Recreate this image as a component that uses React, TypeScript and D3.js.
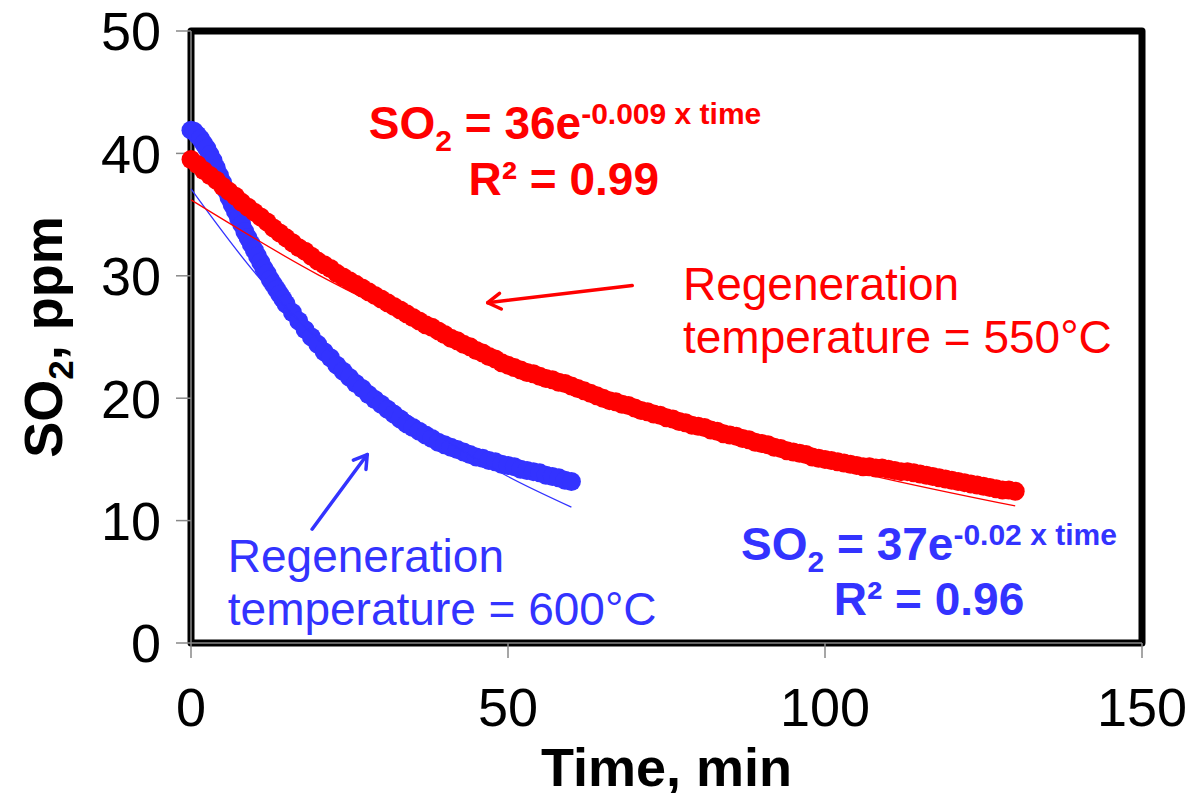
import React from "react";
import * as d3 from "d3";

// SO2 outlet concentration (ppm) during regeneration at 550 °C, one reading per minute
const red550 = [
  39.5, 39.1, 38.6, 38.2, 37.8, 37.3, 36.9, 36.5, 36.0, 35.6, 35.2,
  34.8, 34.4, 33.9, 33.5, 33.1, 32.7, 32.3, 32.0, 31.6, 31.2,
  30.9, 30.6, 30.2, 29.9, 29.6, 29.3, 29.0, 28.7, 28.4, 28.1,
  27.8, 27.5, 27.2, 26.9, 26.6, 26.3, 26.0, 25.8, 25.5, 25.2,
  24.9, 24.7, 24.4, 24.2, 23.9, 23.7, 23.4, 23.2, 22.9, 22.7,
  22.5, 22.3, 22.1, 22.0, 21.8, 21.6, 21.5, 21.3, 21.2, 21.0,
  20.8, 20.6, 20.4, 20.2, 20.0, 19.8, 19.7, 19.5, 19.4, 19.2,
  19.0, 18.9, 18.7, 18.6, 18.4, 18.3, 18.1, 18.0, 17.8, 17.7,
  17.6, 17.4, 17.3, 17.1, 17.0, 16.9, 16.7, 16.6, 16.4, 16.3,
  16.2, 16.0, 15.9, 15.7, 15.6, 15.5, 15.4, 15.2, 15.1, 15.0,
  14.9, 14.8, 14.7, 14.6, 14.5, 14.4, 14.4, 14.3, 14.3, 14.2,
  14.1, 14.0, 14.0, 13.9, 13.8, 13.7, 13.6, 13.5, 13.4, 13.3,
  13.2, 13.1, 13.0, 12.9, 12.8, 12.7, 12.6, 12.5, 12.5, 12.4,
];

// 600 °C run: readings every half minute while it falls fast, then every minute
const blueEarly = [
  41.9, 41.8, 41.5, 41.2, 40.8, 40.4, 39.9, 39.4, 38.8, 38.2,
  37.6, 37.0, 36.4, 35.8, 35.3, 34.7, 34.2, 33.6, 33.1, 32.6,
  32.1, 31.6, 31.1, 30.6, 30.2, 29.7, 29.3, 28.9, 28.5, 28.1,
];
const blueLate = [
  27.7, 27.0, 26.3, 25.6, 25.0, 24.4,
  23.8, 23.3, 22.7, 22.2, 21.7, 21.2, 20.8, 20.3, 19.9, 19.5,
  19.1, 18.7, 18.3, 17.9, 17.6, 17.3, 17.0, 16.7, 16.4, 16.2,
  16.0, 15.8, 15.6, 15.4, 15.2, 15.1, 14.9, 14.8, 14.6, 14.5,
  14.4, 14.2, 14.1, 14.0, 13.9, 13.7, 13.6, 13.5, 13.3, 13.2,
];

// exponential trendlines: [time, ppm]
const redFit = [[0, 36.2], [20, 30.1], [40, 25.1], [60, 20.9], [80, 17.5], [100, 14.6], [130, 11.2]];
const blueFit = [[0, 37.1], [10, 30.3], [20, 24.8], [30, 20.3], [40, 16.6], [50, 13.6], [60, 11.1]];

const xTicks = [0, 50, 100, 150];
const yTicks = [0, 10, 20, 30, 40, 50];

const RED = "#ff0000";
const BLUE = "#3333ff";
const FONT = "'Liberation Sans', Arial, sans-serif";

export default function App() {
  const width = 1195;
  const height = 793;

  const x = d3.scaleLinear().domain([0, 150]).range([191, 1142]);
  const y = d3.scaleLinear().domain([0, 50]).range([643, 31]);

  const redPts = red550.map((v, i) => [i, v]);
  const bluePts = [
    ...blueEarly.map((v, i) => [i * 0.5, v]),
    ...blueLate.map((v, i) => [15 + i, v]),
  ];

  const fitLine = d3
    .line<number[]>()
    .x((d) => x(d[0]))
    .y((d) => y(d[1]))
    .curve(d3.curveMonotoneX);

  const arrow = (x1: number, y1: number, x2: number, y2: number, color: string) => {
    const ax1 = x(x1), ay1 = y(y1), ax2 = x(x2), ay2 = y(y2);
    const ang = Math.atan2(ay2 - ay1, ax2 - ax1);
    const L = 15, spread = 0.55;
    const p1 = [ax2 - L * Math.cos(ang - spread), ay2 - L * Math.sin(ang - spread)];
    const p2 = [ax2 - L * Math.cos(ang + spread), ay2 - L * Math.sin(ang + spread)];
    return (
      <g stroke={color} strokeWidth={3.5} fill="none" strokeLinecap="round" strokeLinejoin="round">
        <line x1={ax1} y1={ay1} x2={ax2} y2={ay2} />
        <polyline points={`${p1[0]},${p1[1]} ${ax2},${ay2} ${p2[0]},${p2[1]}`} />
      </g>
    );
  };

  return (
    <div style={{ position: "absolute", left: 0, top: 0 }}>
      <svg width={width} height={height} style={{ display: "block", fontFamily: FONT }}>
        <rect width={width} height={height} fill="#fff" />

        {/* plot frame */}
        <rect
          x={x(0)}
          y={y(50)}
          width={x(150) - x(0)}
          height={y(0) - y(50)}
          fill="none"
          stroke="#000"
          strokeWidth={7}
          strokeLinejoin="round"
        />

        {/* axes */}
        <g stroke="#888" strokeWidth={1.5}>
          <line x1={x(0)} x2={x(0)} y1={y(50)} y2={y(0)} />
          <line x1={x(0)} x2={x(150)} y1={y(0)} y2={y(0)} />
          {yTicks.map((t) => (
            <line key={"yt" + t} x1={x(0) - 15} x2={x(0)} y1={y(t)} y2={y(t)} />
          ))}
          {xTicks.map((t) => (
            <line key={"xt" + t} x1={x(t)} x2={x(t)} y1={y(0)} y2={y(0) + 15} />
          ))}
        </g>
        {yTicks.map((t) => (
          <text key={"yl" + t} x={x(0) - 30} y={y(t)} dy="0.36em" textAnchor="end" fontSize={54} fill="#000">
            {t}
          </text>
        ))}
        {xTicks.map((t) => (
          <text key={"xl" + t} x={x(t)} y={726} textAnchor="middle" fontSize={54} fill="#000">
            {t}
          </text>
        ))}

        {/* axis titles */}
        <text x={(x(0) + x(150)) / 2} y={786} textAnchor="middle" fontSize={54} fontWeight="bold">
          Time, min
        </text>
        <text
          transform={`translate(62,${(y(0) + y(50)) / 2}) rotate(-90)`}
          textAnchor="middle"
          fontSize={54}
          fontWeight="bold"
        >
          SO<tspan fontSize={35} dy={11}>2</tspan>
          <tspan dy={-11}>, ppm</tspan>
        </text>

        {/* data */}
        <g fill={BLUE}>
          {bluePts.map((d, i) => (
            <circle key={"b" + i} cx={x(d[0])} cy={y(d[1])} r={9.5} />
          ))}
        </g>
        <g fill={RED}>
          {redPts.map((d, i) => (
            <circle key={"r" + i} cx={x(d[0])} cy={y(d[1])} r={9.5} />
          ))}
        </g>
        <path d={fitLine(blueFit) || ""} fill="none" stroke={BLUE} strokeWidth={1.3} />
        <path d={fitLine(redFit) || ""} fill="none" stroke={RED} strokeWidth={1.3} />

        {/* trendline equations */}
        <text x={x(59)} y={y(41.2)} textAnchor="middle" fontSize={46} fontWeight="bold" fill={RED}>
          SO<tspan fontSize={30} dy={12}>2</tspan>
          <tspan dy={-12}> = 36e</tspan>
          <tspan fontSize={30} dy={-15}>-0.009 x time</tspan>
        </text>
        <text x={x(58.8)} y={y(36.6)} textAnchor="middle" fontSize={46} fontWeight="bold" fill={RED}>
          R² = 0.99
        </text>
        <text x={x(116.4)} y={y(6.8)} textAnchor="middle" fontSize={46} fontWeight="bold" fill={BLUE}>
          SO<tspan fontSize={30} dy={12}>2</tspan>
          <tspan dy={-12}> = 37e</tspan>
          <tspan fontSize={30} dy={-15}>-0.02 x time</tspan>
        </text>
        <text x={x(116.4)} y={y(2.3)} textAnchor="middle" fontSize={46} fontWeight="bold" fill={BLUE}>
          R² = 0.96
        </text>

        {/* series labels */}
        <text fontSize={46} fill={RED}>
          <tspan x={x(77.6)} y={y(28.0)}>Regeneration</tspan>
          <tspan x={x(77.6)} y={y(23.7)}>temperature = 550°C</tspan>
        </text>
        <text fontSize={46} fill={BLUE}>
          <tspan x={x(5.8)} y={y(5.8)}>Regeneration</tspan>
          <tspan x={x(5.8)} y={y(1.5)}>temperature = 600°C</tspan>
        </text>
        {arrow(69.6, 29.2, 46.8, 27.8, RED)}
        {arrow(19.1, 9.3, 27.8, 15.4, BLUE)}
      </svg>
    </div>
  );
}
